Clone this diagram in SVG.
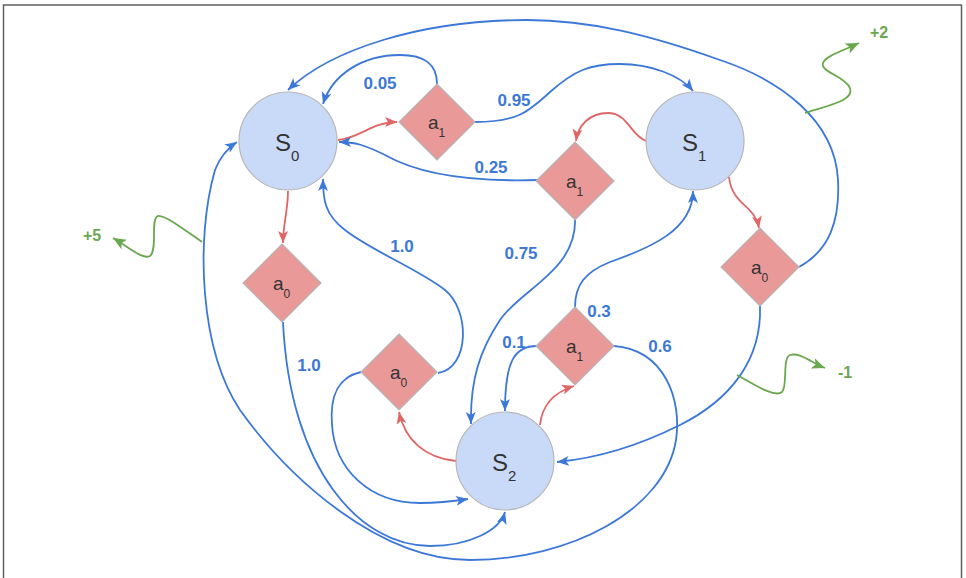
<svg xmlns="http://www.w3.org/2000/svg" width="966" height="578" viewBox="0 0 966 578">
<style>
.bg{fill:#fff}
.frame{fill:none;stroke:#5f5f5f;stroke-width:1.5}
.state{fill:#c9daf8;stroke:#b7b7b7;stroke-width:1.2}
.act{fill:#ea9999;stroke:#b7b7b7;stroke-width:1.2}
.e{fill:none;stroke:#3c78d8;stroke-width:1.8}
.r{fill:none;stroke:#e06666;stroke-width:1.8}
.g{fill:none;stroke:#6aa84f;stroke-width:1.8}
.slab{font-family:"Liberation Sans",Arial,sans-serif;font-size:24px;fill:#333}
.ssub{font-size:15px}
.alab{font-family:"Liberation Sans",Arial,sans-serif;font-size:19px;fill:#333}
.asub{font-size:12px}
.p{font-family:"Liberation Sans",Arial,sans-serif;font-size:17px;font-weight:bold;fill:#3c78d8;text-anchor:middle}
.rw{font-family:"Liberation Sans",Arial,sans-serif;font-size:16px;font-weight:bold;fill:#6aa84f;text-anchor:middle}
</style>
<defs>
<marker id="ab" markerUnits="userSpaceOnUse" markerWidth="13" markerHeight="11" refX="12" refY="5" orient="auto"><path d="M0,0 L12,5 L0,10 L3,5 Z" fill="#3c78d8"/></marker>
<marker id="ar" markerUnits="userSpaceOnUse" markerWidth="13" markerHeight="11" refX="12" refY="5" orient="auto"><path d="M0,0 L12,5 L0,10 L3,5 Z" fill="#e06666"/></marker>
<marker id="ag" markerUnits="userSpaceOnUse" markerWidth="14" markerHeight="12" refX="13" refY="5.5" orient="auto"><path d="M0,0 L13,5.5 L0,11 L3,5.5 Z" fill="#6aa84f"/></marker>
</defs>
<rect class="bg" x="0" y="0" width="966" height="578"/>
<rect class="frame" x="3.5" y="5" width="958" height="600"/>
<g id="connectors">
<path class="r" d="M338,140 C 360,138 372,122 397,122" marker-end="url(#ar)"/>
<path class="e" d="M437,84 C 437,62 422,55 400,55 C 362,55 332,75 323,104" marker-end="url(#ab)"/>
<path class="e" d="M475,122 C 520,122 530,110 550,92 C 575,70 590,64 620,64 C 650,64 680,75 693,91" marker-end="url(#ab)"/>
<path class="r" d="M646,141 C 630,135 628,113 608,113 C 590,113 578,125 576,141" marker-end="url(#ar)"/>
<path class="e" d="M537,180 C 470,182 420,175 385,155 C 365,145 355,142 339,142" marker-end="url(#ab)"/>
<path class="e" d="M575,219 C 577,270 520,290 500,320 C 480,350 470,380 471,424" marker-end="url(#ab)"/>
<path class="e" d="M575,307 C 575,285 585,272 610,262 C 650,248 693,230 693,191" marker-end="url(#ab)"/>
<path class="e" d="M537,346 C 515,346 505,360 505,411" marker-end="url(#ab)"/>
<path class="e" d="M614,346 C 665,350 682,400 676,440 C 665,510 570,560 470,560 C 380,560 290,480 240,410 C 200,350 195,240 215,170 C 220,157 228,148 237,142" marker-end="url(#ab)"/>
<path class="r" d="M288,191 C 288,210 283,225 283,243" marker-end="url(#ar)"/>
<path class="e" d="M283,322 C 290,470 360,546 430,546 C 470,546 500,530 505,512" marker-end="url(#ab)"/>
<path class="r" d="M456,461 C 425,458 405,440 399,412" marker-end="url(#ar)"/>
<path class="e" d="M438,373 C 470,368 470,310 445,290 C 420,270 370,250 345,230 C 325,215 323,200 323,179" marker-end="url(#ab)"/>
<path class="e" d="M361,372 C 335,378 330,400 332,425 C 335,470 370,503 420,503 C 440,503 455,501 468,499" marker-end="url(#ab)"/>
<path class="r" d="M540,425 C 542,405 555,392 574,386" marker-end="url(#ar)"/>
<path class="r" d="M729,177 C 732,205 755,205 759,228" marker-end="url(#ar)"/>
<path class="e" d="M799,267 C 830,250 840,220 838,180 C 835,120 780,80 720,60 C 650,35 590,20 527,20 C 420,20 330,50 288,90" marker-end="url(#ab)"/>
<path class="e" d="M760,306 C 762,360 730,400 680,425 C 640,445 600,458 557,462" marker-end="url(#ab)"/>
<path class="g" d="M805,113 C 830,105 855,100 850,88 C 845,76 820,72 823,63 C 826,56 840,52 859,43" marker-end="url(#ag)"/>
<path class="g" d="M202,242 C 185,230 165,215 158,216 C 150,218 158,250 150,256 C 143,260 130,248 113,238" marker-end="url(#ag)"/>
<path class="g" d="M737,375 C 755,385 775,398 782,392 C 788,386 782,358 790,355 C 800,352 812,363 825,368" marker-end="url(#ag)"/>
<text class="p" x="380" y="89">0.05</text>
<text class="p" x="514" y="106">0.95</text>
<text class="p" x="491" y="173">0.25</text>
<text class="p" x="521" y="259">0.75</text>
<text class="p" x="402" y="252">1.0</text>
<text class="p" x="309" y="371">1.0</text>
<text class="p" x="599" y="317">0.3</text>
<text class="p" x="514" y="348">0.1</text>
<text class="p" x="660" y="352">0.6</text>
<text class="rw" x="879" y="38">+2</text>
<text class="rw" x="92" y="241">+5</text>
<text class="rw" x="845" y="378">-1</text>
</g>
<g id="S0"><circle class="state" cx="288" cy="141" r="49"/><text class="slab" x="275" y="151">S<tspan class="ssub" dy="10">0</tspan></text></g>
<g id="S1"><circle class="state" cx="695" cy="141" r="49"/><text class="slab" x="682" y="151">S<tspan class="ssub" dy="10">1</tspan></text></g>
<g id="S2"><circle class="state" cx="505" cy="461" r="49"/><text class="slab" x="492" y="471">S<tspan class="ssub" dy="10">2</tspan></text></g>
<g id="a1_top"><polygon class="act" points="437,84 475,122 437,160 399,122"/><text class="alab" x="428" y="129">a<tspan class="asub" dy="8">1</tspan></text></g>
<g id="a1_mid"><polygon class="act" points="575,142 614,181 575,220 536,181"/><text class="alab" x="566" y="188">a<tspan class="asub" dy="8">1</tspan></text></g>
<g id="a0_left"><polygon class="act" points="282,244 321,283 282,322 243,283"/><text class="alab" x="273" y="290">a<tspan class="asub" dy="8">0</tspan></text></g>
<g id="a0_right"><polygon class="act" points="760,228 799,267 760,306 721,267"/><text class="alab" x="751" y="274">a<tspan class="asub" dy="8">0</tspan></text></g>
<g id="a0_bottom"><polygon class="act" points="399,334 437,372 399,410 361,372"/><text class="alab" x="390" y="379">a<tspan class="asub" dy="8">0</tspan></text></g>
<g id="a1_bottom"><polygon class="act" points="575,307 614,346 575,385 536,346"/><text class="alab" x="566" y="353">a<tspan class="asub" dy="8">1</tspan></text></g>
</svg>
